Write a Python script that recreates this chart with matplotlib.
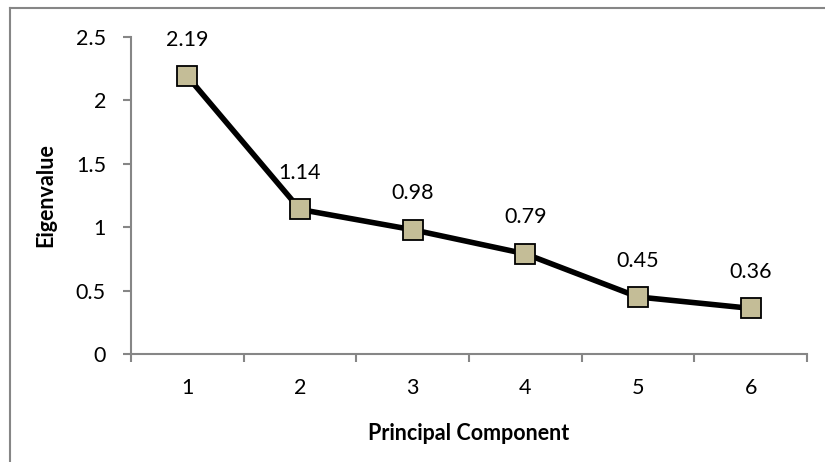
import matplotlib.pyplot as plt
from matplotlib.lines import Line2D

components = [1, 2, 3, 4, 5, 6]
eigenvalues = [2.19, 1.14, 0.98, 0.79, 0.45, 0.36]
yticks = [0, 0.5, 1, 1.5, 2, 2.5]
ytick_labels = ['0', '0.5', '1', '1.5', '2', '2.5']

plt.rcParams['font.family'] = ['Lato', 'DejaVu Sans']

fig = plt.figure(figsize=(8.25, 4.62), dpi=100)
ax = fig.add_axes([131 / 825, 1 - 354 / 462, (807 - 131) / 825, (354 - 37) / 462])

grey = '#868686'
fs = 15.5

ax.plot(components, eigenvalues, color='black', lw=4, marker='s', ms=14,
        mfc='#C4BD97', mec='black', mew=1.3, zorder=3, clip_on=False)
for x, y in zip(components, eigenvalues):
    ax.annotate(f'{y:.2f}', (x, y), xytext=(0, 19), textcoords='offset points',
                ha='center', va='bottom', fontsize=fs)

ax.set_xlim(0.5, 6.5)
ax.set_ylim(0, 2.5)
ax.set_yticks(yticks)
ax.set_yticklabels(ytick_labels)
ax.set_xticks(components)
ax.set_xticklabels([str(c) for c in components])
ax.set_xticks([c + 0.5 for c in [0] + components], minor=True)
ax.tick_params(axis='x', which='major', length=0, pad=17, labelsize=fs)
ax.tick_params(axis='x', which='minor', length=6, width=1.5, color=grey, direction='out')
ax.tick_params(axis='y', length=6, width=1.5, color=grey, pad=12, labelsize=fs)

for s in ['top', 'right']:
    ax.spines[s].set_visible(False)
for s in ['left', 'bottom']:
    ax.spines[s].set_color(grey)
    ax.spines[s].set_linewidth(1.5)

ax.set_xlabel('Principal Component', fontsize=fs, fontweight='bold', labelpad=18)
ax.set_ylabel('Eigenvalue', fontsize=fs, fontweight='bold', labelpad=14)

# chart border
fig.add_artist(Line2D([9.5 / 825, 1], [1 - 7.5 / 462] * 2, color=grey, lw=1.5, transform=fig.transFigure))
fig.add_artist(Line2D([9.5 / 825] * 2, [0, 1 - 7.5 / 462], color=grey, lw=1.5, transform=fig.transFigure))

fig.savefig('out.png', dpi=100)
